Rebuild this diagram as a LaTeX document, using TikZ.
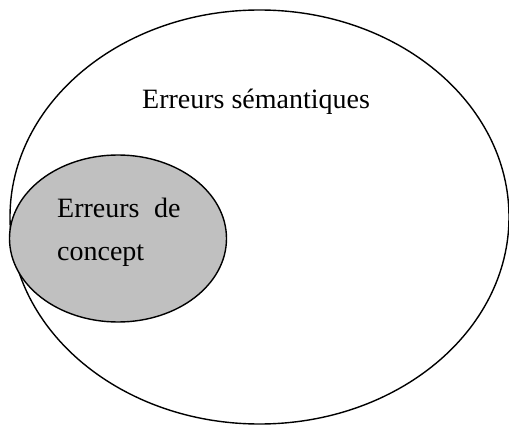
\documentclass[tikz,border=0pt]{standalone}
\usepackage{fontspec}
\setmainfont{Liberation Serif}
\definecolor{innergray}{RGB}{192,192,192}
\tikzset{
  outline/.style={draw=black, line width=1.4pt},
  lbl/.style={anchor=base west, inner sep=0pt, font=\fontsize{28}{34}\selectfont},
}
\begin{document}
\begin{tikzpicture}[x=1pt,y=-1pt]
\useasboundingbox (0,0) rectangle (509,425);
\draw[outline] (259.5,217) ellipse [x radius=249.5, y radius=207];
\draw[outline, fill=innergray] (118,238.5) ellipse [x radius=108.5, y radius=83.5];
\node[lbl] (sem) at (142,109) {Erreurs sémantiques};
\node[lbl] (c1) at (57,218) {Erreurs};
\node[lbl] (c2) at (154,218) {de};
\node[lbl] (c3) at (57,260) {concept};
\end{tikzpicture}
\end{document}
